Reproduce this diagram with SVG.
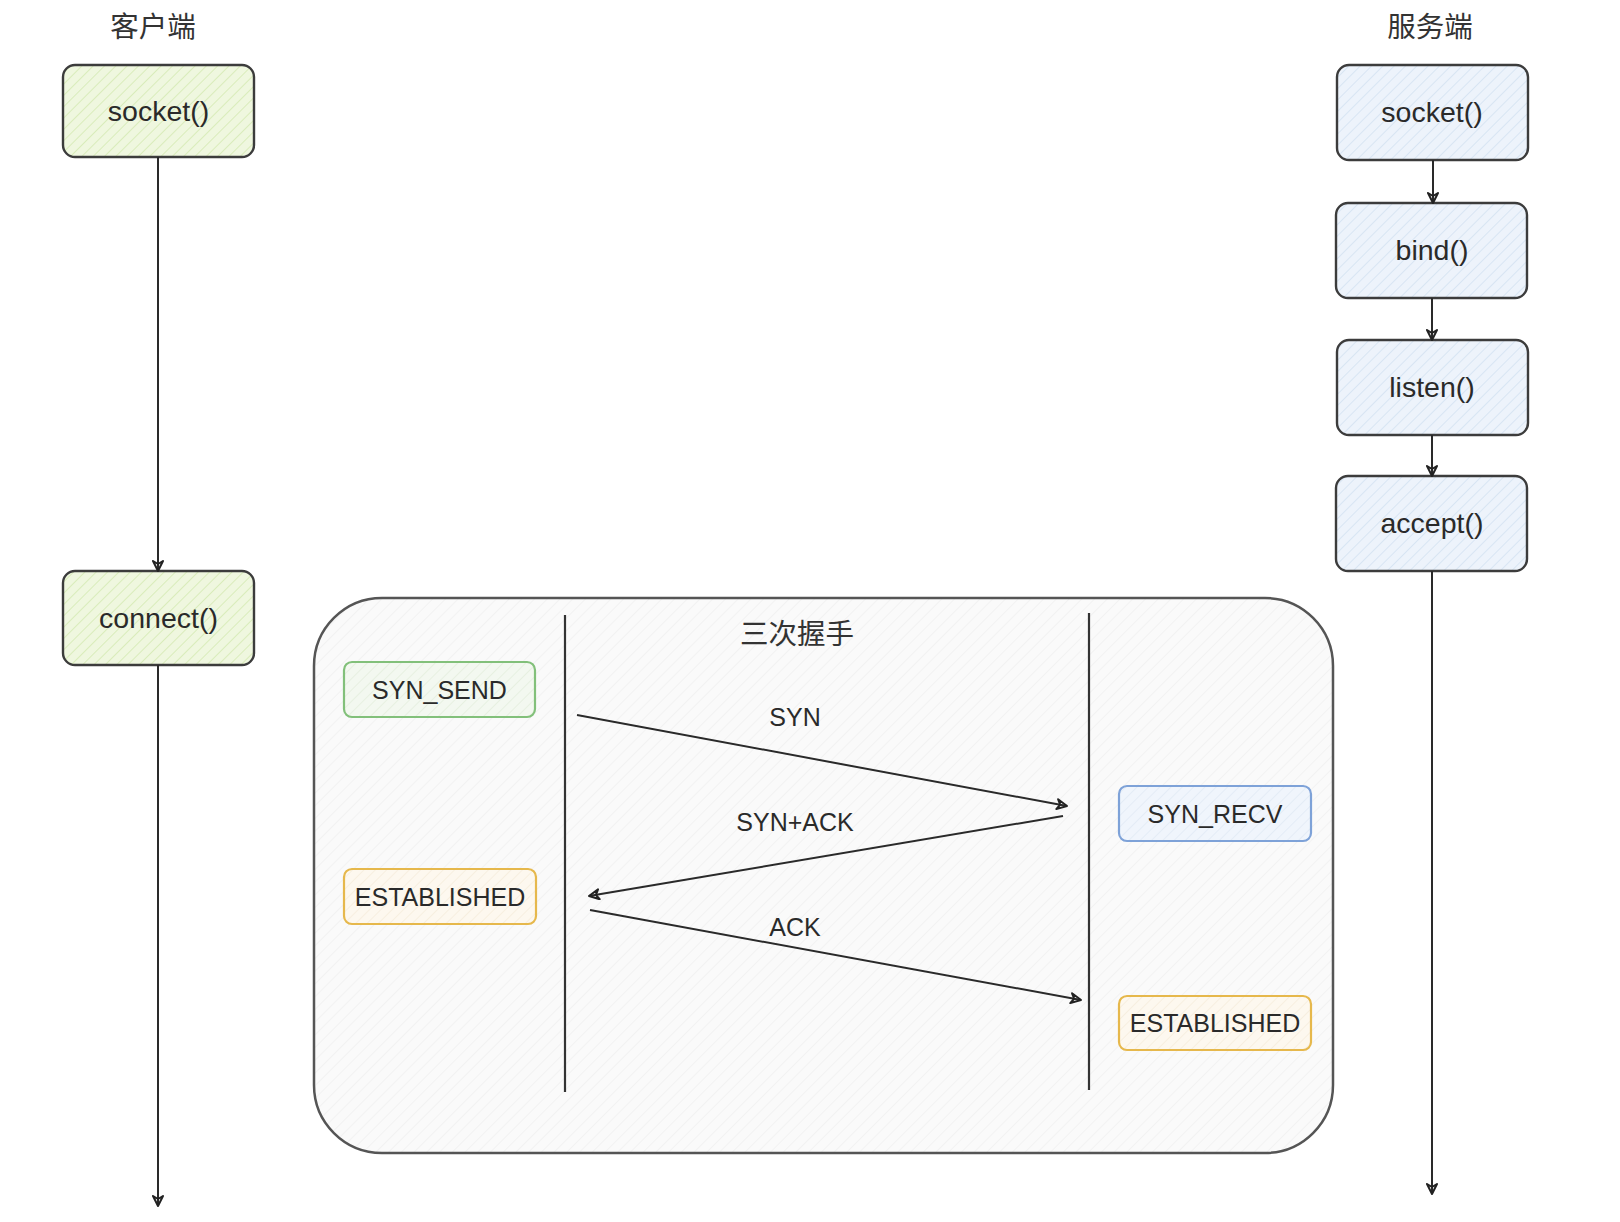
<svg xmlns="http://www.w3.org/2000/svg" width="1620" height="1222" viewBox="0 0 1620 1222">
  <style>
    .t { font-family: "Liberation Sans", Arial, "Noto Sans CJK SC", sans-serif; fill: #2a2a2a; text-anchor: middle; dominant-baseline: central; }
    .cjk { font-family: "Noto Sans CJK SC", "Liberation Sans", sans-serif; fill: #333; text-anchor: middle; dominant-baseline: central; font-size: 28.5px; }
    .fn { font-size: 28.5px; }
    .st { font-size: 25px; }
    .cbox { fill: url(#hGreen); stroke: #3c3c3c; stroke-width: 2.4; }
    .sbox { fill: url(#hBlue); stroke: #3c3c3c; stroke-width: 2.4; }
    .conn { stroke: #2a2a2a; stroke-width: 2; fill: none; marker-end: url(#arr); }
  </style>
  <defs>
    <pattern id="hGreen" width="8" height="8" patternUnits="userSpaceOnUse" patternTransform="rotate(45)">
      <rect width="8" height="8" fill="#eff7df"/>
      <line x1="0" y1="0" x2="0" y2="8" stroke="#d9ecbb" stroke-width="2"/>
    </pattern>
    <pattern id="hBlue" width="8" height="8" patternUnits="userSpaceOnUse" patternTransform="rotate(45)">
      <rect width="8" height="8" fill="#edf3fb"/>
      <line x1="0" y1="0" x2="0" y2="8" stroke="#d8e5f3" stroke-width="2"/>
    </pattern>
    <pattern id="hGrey" width="9" height="9" patternUnits="userSpaceOnUse" patternTransform="rotate(45)">
      <rect width="9" height="9" fill="#fafafa"/>
      <line x1="0" y1="0" x2="0" y2="9" stroke="#f0f0f0" stroke-width="1.5"/>
    </pattern>
    <pattern id="hLGreen" width="8" height="8" patternUnits="userSpaceOnUse" patternTransform="rotate(45)">
      <rect width="8" height="8" fill="#f3f8f0"/>
      <line x1="0" y1="0" x2="0" y2="8" stroke="#e3eedc" stroke-width="1.5"/>
    </pattern>
    <pattern id="hLBlue" width="8" height="8" patternUnits="userSpaceOnUse" patternTransform="rotate(45)">
      <rect width="8" height="8" fill="#f0f5fc"/>
      <line x1="0" y1="0" x2="0" y2="8" stroke="#e0e9f5" stroke-width="1.5"/>
    </pattern>
    <pattern id="hLOrange" width="8" height="8" patternUnits="userSpaceOnUse" patternTransform="rotate(45)">
      <rect width="8" height="8" fill="#fdf8ef"/>
      <line x1="0" y1="0" x2="0" y2="8" stroke="#f6ecdc" stroke-width="1.5"/>
    </pattern>
    <marker id="arr" viewBox="0 0 12 12" refX="11" refY="6" markerWidth="12" markerHeight="12" markerUnits="userSpaceOnUse" orient="auto">
      <path d="M1,1 L11,6 L1,11 L4,6 Z" fill="none" stroke="#222" stroke-width="2" stroke-linejoin="round"/>
    </marker>
  </defs>

  <!-- titles -->
  <g id="title-client"><text class="cjk" x="153" y="24">客户端</text></g>
  <g id="title-server"><text class="cjk" x="1430" y="24">服务端</text></g>

  <!-- container -->
  <g id="handshake">
    <rect x="314" y="598" width="1019" height="555" rx="68" ry="68" fill="url(#hGrey)" stroke="#555" stroke-width="2.5"/>
    <text class="cjk" x="797" y="631">三次握手</text>
    <line x1="565" y1="615" x2="565" y2="1092" stroke="#333" stroke-width="2.2"/>
    <line x1="1089" y1="613" x2="1089" y2="1090" stroke="#333" stroke-width="2.2"/>
  </g>

  <!-- client nodes -->
  <g id="c-socket">
    <rect class="cbox" x="63" y="65" width="191" height="92" rx="12"/>
    <text class="t fn" x="158.5" y="111">socket()</text>
  </g>
  <g id="c-connect">
    <rect class="cbox" x="63" y="571" width="191" height="94" rx="12"/>
    <text class="t fn" x="158.5" y="618">connect()</text>
  </g>

  <!-- server nodes -->
  <g id="s-socket">
    <rect class="sbox" x="1337" y="65" width="191" height="95" rx="12"/>
    <text class="t fn" x="1432" y="112">socket()</text>
  </g>
  <g id="s-bind">
    <rect class="sbox" x="1336" y="203" width="191" height="95" rx="12"/>
    <text class="t fn" x="1432" y="250">bind()</text>
  </g>
  <g id="s-listen">
    <rect class="sbox" x="1337" y="340" width="191" height="95" rx="12"/>
    <text class="t fn" x="1432" y="387">listen()</text>
  </g>
  <g id="s-accept">
    <rect class="sbox" x="1336" y="476" width="191" height="95" rx="12"/>
    <text class="t fn" x="1432" y="523">accept()</text>
  </g>

  <!-- state nodes -->
  <g id="syn-send">
    <rect x="344" y="662" width="191" height="55" rx="8" fill="url(#hLGreen)" stroke="#82c07a" stroke-width="2.2"/>
    <text class="t st" x="439.5" y="690">SYN_SEND</text>
  </g>
  <g id="est-client">
    <rect x="344" y="869" width="192" height="55" rx="8" fill="url(#hLOrange)" stroke="#e6b84c" stroke-width="2.2"/>
    <text class="t st" x="440" y="897">ESTABLISHED</text>
  </g>
  <g id="syn-recv">
    <rect x="1119" y="786" width="192" height="55" rx="8" fill="url(#hLBlue)" stroke="#7ea2d8" stroke-width="2.2"/>
    <text class="t st" x="1215" y="814">SYN_RECV</text>
  </g>
  <g id="est-server">
    <rect x="1119" y="996" width="192" height="54" rx="8" fill="url(#hLOrange)" stroke="#e6b84c" stroke-width="2.2"/>
    <text class="t st" x="1215" y="1023">ESTABLISHED</text>
  </g>

  <!-- connectors -->
  <g id="connectors">
    <line class="conn" x1="158" y1="157" x2="158" y2="571"/>
    <line class="conn" x1="158" y1="665" x2="158" y2="1206"/>
    <line class="conn" x1="1433" y1="160" x2="1433" y2="203"/>
    <line class="conn" x1="1432" y1="298" x2="1432" y2="340"/>
    <line class="conn" x1="1432" y1="435" x2="1432" y2="476"/>
    <line class="conn" x1="1432" y1="571" x2="1432" y2="1194"/>
    <line class="conn" x1="577" y1="715" x2="1067" y2="806"/>
    <line class="conn" x1="1063" y1="816" x2="589" y2="896"/>
    <line class="conn" x1="590" y1="910" x2="1081" y2="1000"/>
    <text class="t st" x="795" y="717">SYN</text>
    <text class="t st" x="795" y="822">SYN+ACK</text>
    <text class="t st" x="795" y="927">ACK</text>
  </g>
</svg>
